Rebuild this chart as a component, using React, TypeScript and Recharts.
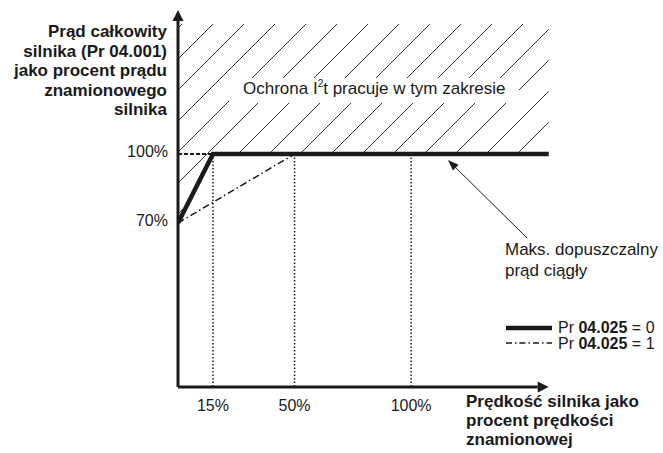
import React from "react";
import { ComposedChart, Line, Area, XAxis, YAxis, ReferenceLine } from "recharts";

// speed in % of rated, current in % of rated
const speedTicks = [15, 50, 100];
const currentTicks = [70, 100];
const thickSpeed = [0, 15, 159];
const thickCurrent = [70, 100, 100];
const dashSpeed = [0, 50];
const dashCurrent = [70, 100];
const guideSpeeds = [15, 50, 100];
const hatchTop = 156.5;
const speedDomain = [0, 160];
const currentDomain = [-1.3, 162.6];
const noteFrom = { x: 149.7, y: 63.5 };
const noteTo = { x: 115.8, y: 97.4 };

const thickData = thickSpeed.map((s, i) => ({ speed: s, current: thickCurrent[i] }));
const dashData = dashSpeed.map((s, i) => ({ speed: s, current: dashCurrent[i] }));

const INK = "#1a1a1a";
const FONT = "'Liberation Sans', Arial, sans-serif";

const arrowShape = (head: number, width: number, sw: number) => (p: any) => {
  const { x1, y1, x2, y2 } = p;
  const ang = Math.atan2(y2 - y1, x2 - x1);
  const bx = x2 - head * Math.cos(ang);
  const by = y2 - head * Math.sin(ang);
  const nx = (-Math.sin(ang) * width) / 2;
  const ny = (Math.cos(ang) * width) / 2;
  return (
    <g>
      <line x1={x1} y1={y1} x2={bx} y2={by} stroke={INK} strokeWidth={sw} />
      <polygon points={`${x2},${y2} ${bx + nx},${by + ny} ${bx - nx},${by - ny}`} fill={INK} />
    </g>
  );
};

const XTick = (p: any) => (
  <text x={p.x} y={p.y + 18} textAnchor="middle" fontSize={16} fill={INK} fontFamily={FONT}>
    {`${p.payload.value}%`}
  </text>
);

const YTick = (p: any) => (
  <text x={p.x} y={p.y + 3} textAnchor="end" fontSize={16} fill={INK} fontFamily={FONT}>
    {`${p.payload.value}%`}
  </text>
);

export default function App() {
  const yMin = currentDomain[0];
  const yMax = currentDomain[1];
  return (
    <div
      style={{
        position: "absolute",
        left: 0,
        top: 0,
        width: 663,
        height: 453,
        background: "#fff",
        fontFamily: FONT,
      }}
    >
      <ComposedChart
        width={663}
        height={453}
        margin={{ top: 10, right: 112, bottom: 36, left: 118 }}
      >
        <defs>
          <pattern
            id="hatch"
            patternUnits="userSpaceOnUse"
            width={31}
            height={31}
            patternTransform="translate(20,0)"
          >
            <line x1={0} y1={31} x2={31} y2={0} stroke="#333" strokeWidth={1} />
            <line x1={-2} y1={2} x2={2} y2={-2} stroke="#333" strokeWidth={1} />
            <line x1={29} y1={33} x2={33} y2={29} stroke="#333" strokeWidth={1} />
          </pattern>
        </defs>
        <XAxis
          dataKey="speed"
          type="number"
          domain={speedDomain}
          ticks={speedTicks}
          axisLine={false}
          tickLine={false}
          tickSize={0}
          tickMargin={6}
          height={30}
          allowDataOverflow
          tick={<XTick />}
        />
        <YAxis
          type="number"
          domain={currentDomain}
          ticks={currentTicks}
          axisLine={false}
          tickLine={false}
          tickSize={0}
          tickMargin={10}
          width={60}
          allowDataOverflow
          tick={<YTick />}
        />
        <Area
          data={thickData}
          dataKey={(d: any) => [d.current, hatchTop]}
          type="linear"
          stroke="none"
          fill="url(#hatch)"
          fillOpacity={1}
          isAnimationActive={false}
        />
        {guideSpeeds.map((s) => (
          <ReferenceLine
            key={s}
            segment={[{ x: s, y: 100 }, { x: s, y: yMin }]}
            stroke={INK}
            strokeWidth={1.5}
            strokeDasharray="1.5 2"
            ifOverflow="visible"
          />
        ))}
        <ReferenceLine
          segment={[{ x: 0, y: 100 }, { x: guideSpeeds[0], y: 100 }]}
          stroke={INK}
          strokeWidth={2}
          strokeDasharray="4 2"
          ifOverflow="visible"
        />
        <Line
          data={dashData}
          dataKey="current"
          type="linear"
          stroke={INK}
          strokeWidth={1.5}
          strokeDasharray="7 3 1.5 3"
          dot={false}
          isAnimationActive={false}
        />
        <Line
          data={thickData}
          dataKey="current"
          type="linear"
          stroke={INK}
          strokeWidth={4.5}
          dot={false}
          isAnimationActive={false}
        />
        <ReferenceLine
          segment={[{ x: 0, y: yMin }, { x: 0, y: yMax }]}
          shape={arrowShape(11, 11, 3)}
          ifOverflow="visible"
        />
        <ReferenceLine
          segment={[{ x: 0, y: yMin }, { x: 159, y: yMin }]}
          shape={arrowShape(11, 11, 3)}
          ifOverflow="visible"
        />
        <ReferenceLine
          segment={[noteFrom, noteTo]}
          shape={arrowShape(11, 8, 1)}
          ifOverflow="visible"
        />
      </ComposedChart>
      <svg
        width={663}
        height={453}
        style={{ position: "absolute", left: 0, top: 0, pointerEvents: "none" }}
        fontFamily={FONT}
        fill={INK}
      >
        <g fontSize={17} fontWeight="bold" textAnchor="end">
          <text x={167} y={37}>Prąd całkowity</text>
          <text x={167} y={56.5}>silnika (Pr 04.001)</text>
          <text x={167} y={76}>jako procent prądu</text>
          <text x={167} y={95.5}>znamionowego</text>
          <text x={167} y={115}>silnika</text>
        </g>
        <g fontSize={17} fontWeight="bold">
          <text x={466} y={407}>Prędkość silnika jako</text>
          <text x={466} y={426}>procent prędkości</text>
          <text x={466} y={445}>znamionowej</text>
        </g>
        <rect x={229} y={78} width={290} height={25} fill="#fff" />
        <text x={243} y={94} fontSize={17}>
          Ochrona I<tspan fontSize={10} dy={-7}>2</tspan>
          <tspan dy={7}>t pracuje w tym zakresie</tspan>
        </text>
        <g fontSize={17}>
          <text x={505} y={255}>Maks. dopuszczalny</text>
          <text x={505} y={276}>prąd ciągły</text>
        </g>
        <line x1={506} y1={328} x2={552} y2={328} stroke={INK} strokeWidth={4.5} />
        <line x1={506} y1={343} x2={552} y2={343} stroke={INK} strokeWidth={1.5} strokeDasharray="6 3 1.5 3" />
        <g fontSize={16}>
          <text x={558} y={333}>
            Pr <tspan fontWeight="bold">04.025</tspan> = 0
          </text>
          <text x={558} y={349}>
            Pr <tspan fontWeight="bold">04.025</tspan> = 1
          </text>
        </g>
      </svg>
    </div>
  );
}
